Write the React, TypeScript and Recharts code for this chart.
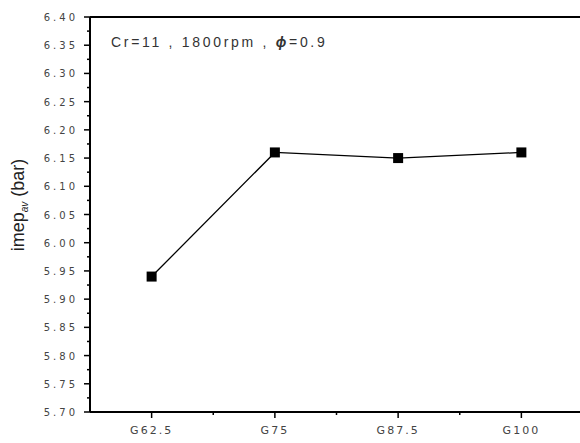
import React from 'react';
import { LineChart, Line, XAxis, YAxis, ReferenceLine } from 'recharts';

const categories = ['G62.5', 'G75', 'G87.5', 'G100'];
const imepValues = [5.94, 6.16, 6.15, 6.16];
const yMajorTicks = [5.7, 5.75, 5.8, 5.85, 5.9, 5.95, 6.0, 6.05, 6.1, 6.15, 6.2, 6.25, 6.3, 6.35, 6.4];

const data = categories.map((name, i) => ({ idx: i, name, imep: imepValues[i] }));

// minor ticks sit halfway between the major ones
const yTicks = yMajorTicks.flatMap((v, i) => (i === 0 ? [v] : [(v + yMajorTicks[i - 1]) / 2, v]));
const xTicks = categories.flatMap((_, i) => (i === 0 ? [0] : [i - 0.5, i]));

const tickFont = "'DejaVu Sans', sans-serif";

const YTick = (props: any) => {
  const { x, y, payload } = props;
  const v = payload.value;
  const major = yMajorTicks.some(m => Math.abs(m - v) < 1e-6);
  return (
    <g>
      <line x1={x - (major ? 6 : 3)} x2={x} y1={y} y2={y} stroke="#000" strokeWidth={1.5} />
      {major && (
        <text x={x - 12} y={y + 4} textAnchor="end" fontSize={10} letterSpacing={3} fill="#444" fontFamily={tickFont}>
          {v.toFixed(2)}
        </text>
      )}
    </g>
  );
};

const XTick = (props: any) => {
  const { x, y, payload } = props;
  const v = payload.value;
  const major = Number.isInteger(v);
  return (
    <g>
      <line x1={x} x2={x} y1={y} y2={y + (major ? 6 : 3)} stroke="#000" strokeWidth={1.5} />
      {major && (
        <text x={x} y={y + 22} textAnchor="middle" fontSize={11} letterSpacing={2} fill="#444" fontFamily={tickFont}>
          {categories[v]}
        </text>
      )}
    </g>
  );
};

const SquareDot = (props: any) => {
  const { cx, cy } = props;
  if (cx == null || cy == null) return null;
  return <rect x={cx - 5} y={cy - 5} width={10} height={10} fill="#000" />;
};

export default function App() {
  return (
    <div style={{ position: 'absolute', left: 0, top: 0, width: 580, height: 443, overflow: 'hidden', background: '#fff' }}>
      <LineChart width={600} height={443} data={data} margin={{ top: 17, right: 17, left: 30, bottom: 0 }}>
        <XAxis
          dataKey="idx"
          type="number"
          domain={[-0.5, 3.5]}
          ticks={xTicks}
          interval={0}
          height={31}
          tickSize={0}
          tickMargin={0}
          tickLine={false}
          axisLine={{ stroke: '#000', strokeWidth: 2 }}
          tick={<XTick />}
        />
        <YAxis
          type="number"
          domain={[5.7, 6.4]}
          ticks={yTicks}
          interval={0}
          width={60}
          tickSize={0}
          tickMargin={0}
          tickLine={false}
          axisLine={{ stroke: '#000', strokeWidth: 2 }}
          tick={<YTick />}
        />
        <ReferenceLine y={6.4} stroke="#000" strokeWidth={2} />
        <Line
          type="linear"
          dataKey="imep"
          stroke="#000"
          strokeWidth={1.3}
          dot={<SquareDot />}
          activeDot={false}
          isAnimationActive={false}
        />
      </LineChart>
      <div
        style={{
          position: 'absolute', left: 111, top: 34, fontFamily: 'Arial, sans-serif', fontSize: 14,
          letterSpacing: 2.7, color: '#333', whiteSpace: 'nowrap',
        }}
      >
        Cr=11 , 1800rpm , <i style={{ fontWeight: 'bold' }}>ϕ</i>=0.9
      </div>
      <div
        style={{
          position: 'absolute', left: 19, top: 205, transform: 'translate(-50%, -50%) rotate(-90deg)',
          fontFamily: 'Arial, sans-serif', fontSize: 18, color: '#222', whiteSpace: 'nowrap',
        }}
      >
        imep<sub style={{ fontSize: 10, fontStyle: 'italic' }}>av</sub> (bar)
      </div>
    </div>
  );
}
